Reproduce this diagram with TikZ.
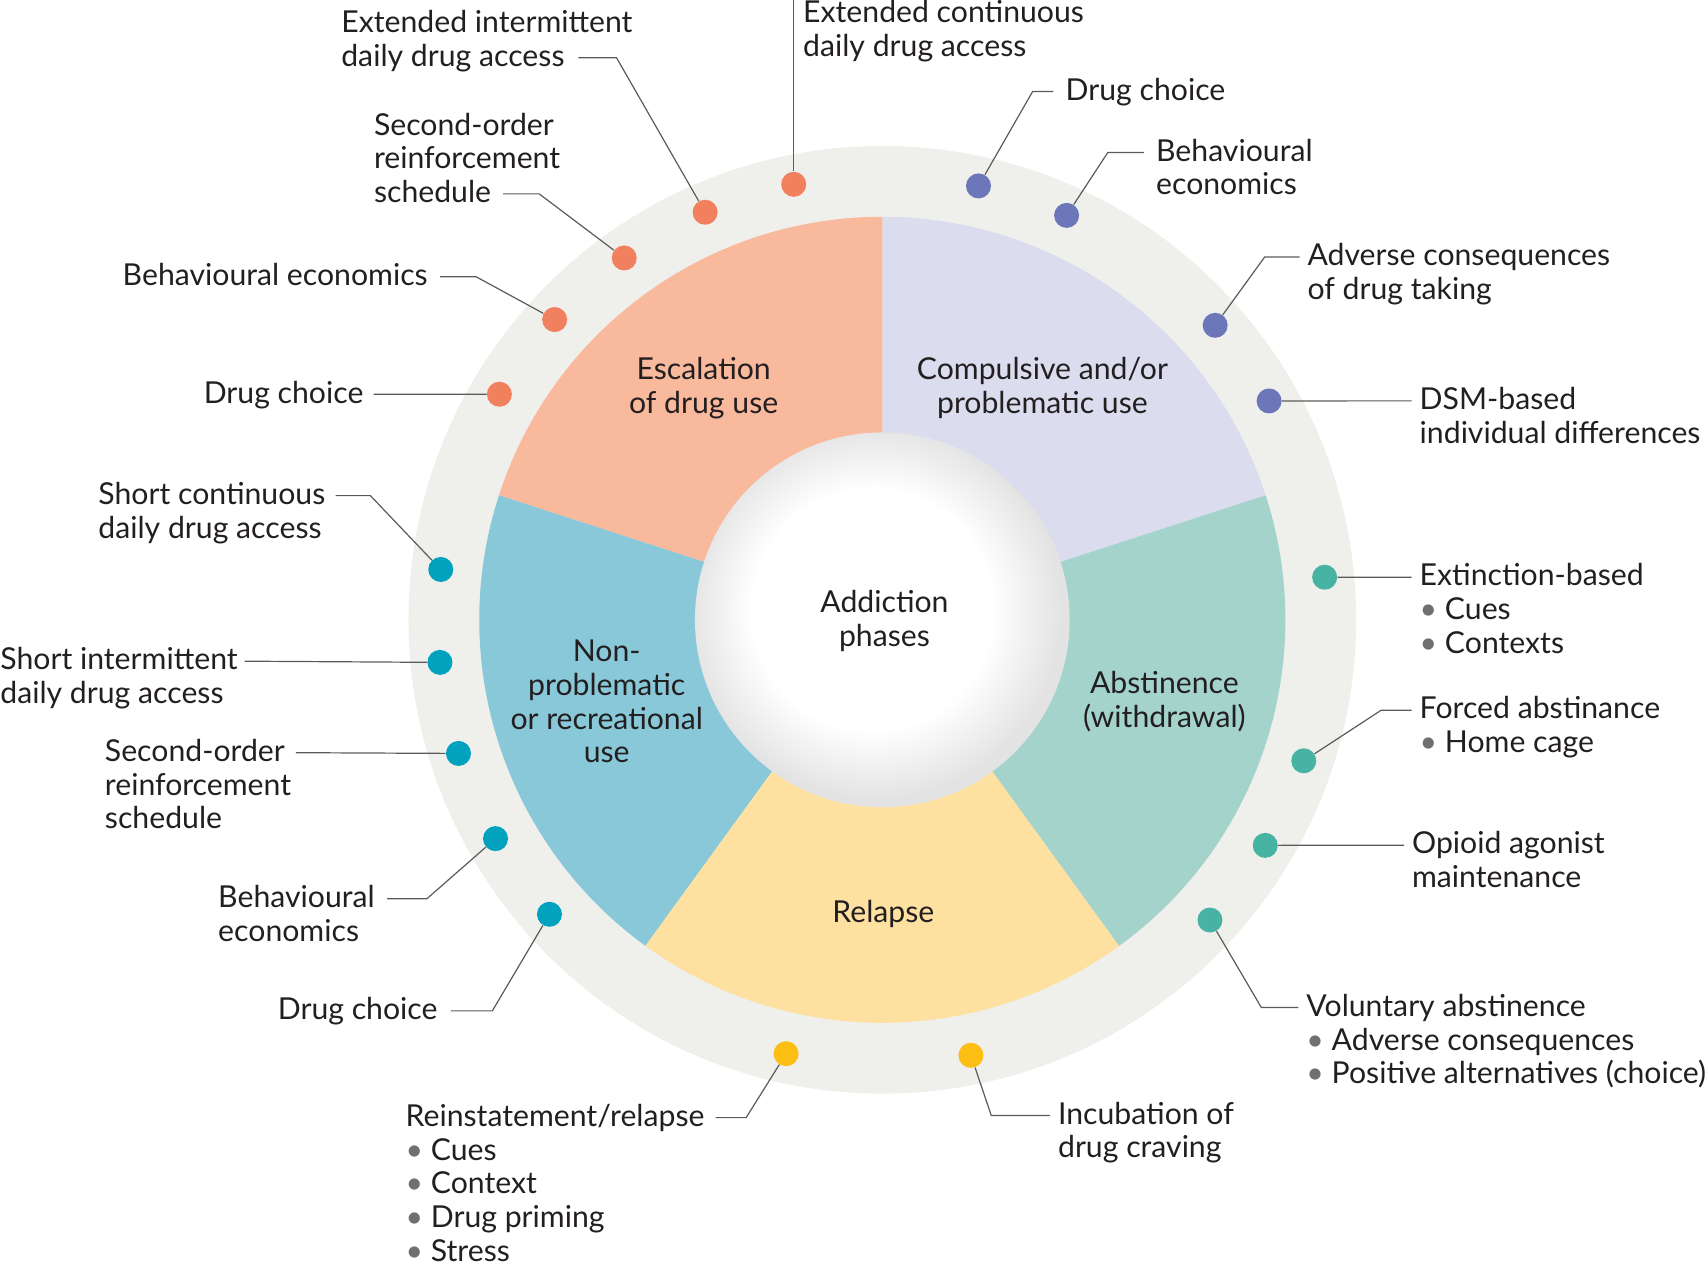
\documentclass[tikz,border=0pt]{standalone}
\usepackage{fontspec}
\setmainfont{Lato}
\usepackage{tikz}

\definecolor{ink}{RGB}{35,31,32}
\definecolor{leadgray}{RGB}{90,90,90}
\definecolor{bulgray}{RGB}{112,112,113}
\definecolor{ringgray}{RGB}{239,239,236}
\definecolor{escfill}{RGB}{249,185,157}
\definecolor{compfill}{RGB}{220,220,239}
\definecolor{abstfill}{RGB}{163,211,203}
\definecolor{relfill}{RGB}{254,225,161}
\definecolor{recfill}{RGB}{137,200,216}
\definecolor{escdot}{RGB}{241,128,95}
\definecolor{compdot}{RGB}{108,119,185}
\definecolor{abstdot}{RGB}{71,179,163}
\definecolor{reldot}{RGB}{253,190,20}
\definecolor{recdot}{RGB}{0,162,189}

\newcommand{\lblfont}{\fontsize{15.1pt}{16.9pt}\selectfont}
\newcommand{\bul}{\textcolor{bulgray}{\textbullet}\ }

\pgfdeclareradialshading{ballshade}{\pgfpoint{-2bp}{2bp}}{color(0bp)=(white); color(16bp)=(white); color(25bp)=(black!11); color(50bp)=(black!11)}

\begin{document}
\begin{tikzpicture}[x=0.5447pt,y=0.5447pt,
    dot/.style={circle,fill=#1,minimum size=12.5pt,inner sep=0pt},
    lbl/.style={font=\lblfont,text=ink,align=left,inner sep=0pt},
    phase/.style={font=\lblfont,text=ink,align=center,inner sep=0pt},
    lead/.style={leadgray,line width=0.6pt}
  ]
    \useasboundingbox (-810,-594) rectangle (758,569);

    % ring and the five phases
    \fill[ringgray] (0,0) circle[radius=435];
    \fill[compfill] (0,0) -- (18:370) arc[start angle=18,end angle=90,radius=370] -- cycle;
    \fill[escfill] (0,0) -- (90:370) arc[start angle=90,end angle=162,radius=370] -- cycle;
    \fill[recfill] (0,0) -- (162:370) arc[start angle=162,end angle=234,radius=370] -- cycle;
    \fill[relfill] (0,0) -- (234:370) arc[start angle=234,end angle=306,radius=370] -- cycle;
    \fill[abstfill] (0,0) -- (306:370) arc[start angle=306,end angle=378,radius=370] -- cycle;
    \shade[shading=ballshade] (0,0) circle[radius=172];

    \node[phase] (esc) at (-164,213) {Escalation\\of drug use};
    \node[phase] (comp) at (147,213) {Compulsive and/or\\problematic use};
    \node[phase] (rec) at (-253,-75) {Non-\\problematic\\or recreational\\use};
    \node[phase] (rel) at (1,-270) {Relapse};
    \node[phase] (abst) at (259,-75) {Abstinence\\(withdrawal)};
    \node[phase] (core) at (2,-1) {Addiction\\phases};

    % models on the ring
    \node[dot=escdot] (esc1) at (149.5:408) {};
    \node[dot=escdot] (esc2) at (137.5:408) {};
    \node[dot=escdot] (esc3) at (125.5:408) {};
    \node[dot=escdot] (esc4) at (113.5:408) {};
    \node[dot=escdot] (esc5) at (101.5:408) {};
    \node[dot=compdot] (comp1) at (77.5:408) {};
    \node[dot=compdot] (comp2) at (65.5:408) {};
    \node[dot=compdot] (comp3) at (41.5:408) {};
    \node[dot=compdot] (comp4) at (29.5:408) {};
    \node[dot=abstdot] (abst1) at (5.5:408) {};
    \node[dot=abstdot] (abst2) at (-18.5:408) {};
    \node[dot=abstdot] (abst3) at (-30.5:408) {};
    \node[dot=abstdot] (abst4) at (-42.5:408) {};
    \node[dot=reldot] (rel1) at (-102.5:408) {};
    \node[dot=reldot] (rel2) at (-78.5:408) {};
    \node[dot=recdot] (rec1) at (173.5:408) {};
    \node[dot=recdot] (rec2) at (185.5:408) {};
    \node[dot=recdot] (rec3) at (197.5:408) {};
    \node[dot=recdot] (rec4) at (209.5:408) {};
    \node[dot=recdot] (rec5) at (221.5:408) {};

    % escalation
    \node[lbl,anchor=base east] (esc1t) at (-476,199) {Drug choice};
    \draw[lead] (esc1) -- ([shift={(9,8)}]esc1t.base east);
    \node[lbl,anchor=base east] (esc2t) at (-417,307) {Behavioural economics};
    \draw[lead] (esc2) -- (-373,315) -- ([shift={(11,8)}]esc2t.base east);
    \node[lbl,anchor=base west] (esc3t) at (-467,383) {Second-order\\reinforcement\\schedule};
    \coordinate (esc3e) at (-348,391);
    \draw[lead] (esc3) -- (-315,391) -- (esc3e);
    \node[lbl,anchor=base west] (esc4t) at (-497,508) {Extended intermittent\\daily drug access};
    \coordinate (esc4e) at (-279,516);
    \draw[lead] (esc4) -- (-244,516) -- (esc4e);
    \node[lbl,anchor=base west] (esc5t) at (-73,517) {Extended continuous\\daily drug access};
    \draw[lead] (esc5) -- (esc5 |- esc5t.north);

    % compulsive use
    \node[lbl,anchor=base west] (comp1t) at (168,477) {Drug choice};
    \draw[lead] (comp1) -- (138,485) -- ([shift={(-11,8)}]comp1t.base west);
    \node[lbl,anchor=base west] (comp2t) at (251,390) {Behavioural\\economics};
    \draw[lead] (comp2) -- (207,429) -- ([shift={(-11,39)}]comp2t.base west);
    \node[lbl,anchor=base west] (comp3t) at (390,294) {Adverse consequences\\of drug taking};
    \draw[lead] (comp3) -- (351,333) -- ([shift={(-7,39)}]comp3t.base west);
    \node[lbl,anchor=base west] (comp4t) at (493,162) {DSM-based\\individual differences};
    \draw[lead] (comp4) -- ([shift={(-7,39)}]comp4t.base west);

    % abstinence
    \node[lbl,anchor=base west] (abst1t) at (493,-31) {Extinction-based\\\bul Cues\\\bul Contexts};
    \draw[lead] (abst1) -- ([shift={(-7,70)}]abst1t.base west);
    \node[lbl,anchor=base west] (abst2t) at (493,-122) {Forced abstinance\\\bul Home cage};
    \draw[lead] (abst2) -- (458,-83) -- ([shift={(-7,39)}]abst2t.base west);
    \node[lbl,anchor=base west] (abst3t) at (486,-246) {Opioid agonist\\maintenance};
    \draw[lead] (abst3) -- ([shift={(-7,39)}]abst3t.base west);
    \node[lbl,anchor=base west] (abst4t) at (389,-426) {Voluntary abstinence\\\bul Adverse consequences\\\bul Positive alternatives (choice)};
    \draw[lead] (abst4) -- (348,-356) -- ([shift={(-7,70)}]abst4t.base west);

    % relapse
    \node[lbl,anchor=base west] (rel1t) at (-438,-589) {Reinstatement/relapse\\\bul Cues\\\bul Context\\\bul Drug priming\\\bul Stress};
    \draw[lead] (rel1) -- (-125,-457) -- ([shift={(10,132)}]rel1t.base east);
    \node[lbl,anchor=base west] (rel2t) at (161,-494) {Incubation of\\drug craving};
    \draw[lead] (rel2) -- (100,-455) -- ([shift={(-7,39)}]rel2t.base west);

    % recreational use
    \node[lbl,anchor=base west] (rec1t) at (-720,75) {Short continuous\\daily drug access};
    \draw[lead] (rec1) -- (-470,114) -- ([shift={(9,39)}]rec1t.base east);
    \node[lbl,anchor=base west] (rec2t) at (-810,-77) {Short intermittent\\daily drug access};
    \draw[lead] (rec2) -- ([shift={(6,39)}]rec2t.base east);
    \node[lbl,anchor=base west] (rec3t) at (-714,-192) {Second-order\\reinforcement\\schedule};
    \draw[lead] (rec3) -- ([shift={(4,70)}]rec3t.base east);
    \node[lbl,anchor=base west] (rec4t) at (-610,-295) {Behavioural\\economics};
    \draw[lead] (rec4) -- (-418,-256) -- ([shift={(11,39)}]rec4t.base east);
    \node[lbl,anchor=base east] (rec5t) at (-408,-367) {Drug choice};
    \draw[lead] (rec5) -- (-358,-359) -- ([shift={(12,8)}]rec5t.base east);
\end{tikzpicture}
\end{document}
